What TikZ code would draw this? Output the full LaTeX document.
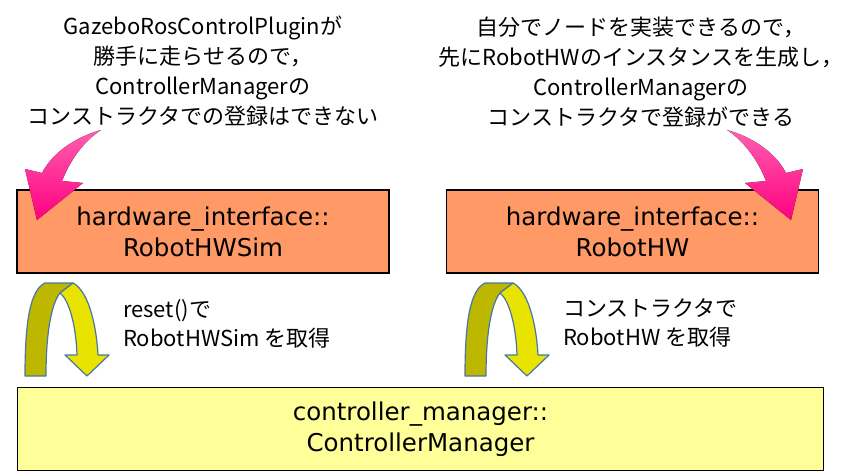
\documentclass[tikz,border=0pt]{standalone}
\usepackage{fontspec}
\setmainfont{Noto Sans CJK JP}
\newfontfamily\boxfont{DejaVu Sans}
\usetikzlibrary{positioning}
\definecolor{boxorange}{RGB}{255,153,102}
\definecolor{boxyellow}{RGB}{255,255,153}
\definecolor{ribbondark}{RGB}{189,183,0}
\definecolor{ribbonlight}{RGB}{232,228,0}
\definecolor{ribbonline}{RGB}{72,118,168}
\definecolor{pinkdeep}{RGB}{255,0,128}
\definecolor{pinklight}{RGB}{255,160,205}
\definecolor{pinkmid}{RGB}{255,95,175}

\begin{document}
\begin{tikzpicture}[x=1pt,y=-1pt]
       \tikzset{classbox/.style={rectangle, draw, line width=1.2pt, minimum width=372pt,
                minimum height=83pt, align=center, font=\boxfont\fontsize{24.5}{31}\selectfont}}

       \tikzset{note/.style={align=center, inner sep=0pt, font=\fontsize{22}{30}\selectfont}}

       \tikzset{caption/.style={align=left, inner sep=0pt, font=\fontsize{22}{29}\selectfont}}

       \tikzset{ribbon/.style={draw=ribbonline, line width=1.2pt, line join=round}}

       \tikzset{pinkarrow/.style={top color=pinkmid, middle color=pinklight, bottom color=pinkdeep}}

        \useasboundingbox (0,0) rectangle (864,475);

        \node[note] (simnote) at (203,71) {GazeboRosControlPluginが\\勝手に走らせるので，\\ControllerManagerの\\コンストラクタでの登録はできない};
        \node[note] (hwnote) at (641,72) {自分でノードを実装できるので，\\先にRobotHWのインスタンスを生成し，\\ControllerManagerの\\コンストラクタで登録ができる};

        \node[classbox, fill=boxorange] (hwsim) at (203,231.5) {hardware\_interface::\\RobotHWSim};
        \node[classbox, fill=boxorange] (hw) at (632.5,231.5) {hardware\_interface::\\RobotHW};
        \node[classbox, fill=boxyellow, minimum width=806pt] (manager) at (420.5,429) {controller\_manager::\\ControllerManager};

        \node[caption, anchor=west] (simlabel) at (123,324) {reset()で\\RobotHWSim を取得};
        \node[caption, anchor=west] (hwlabel) at (563,323) {コンストラクタで\\RobotHW を取得};

        % pink arrows, right one mirrored
        \foreach \s/\sh in {1/0,-1/828}{
          \begin{scope}[shift={(\sh,0)}, xscale=\s]
            \fill[pinkarrow] (101,130) .. controls (76,137) and (53,152) .. (42,173) -- (25,169) -- (37,220)
              -- (83,183) -- (62,181) .. controls (70,160) and (85,140) .. (101,130) -- cycle;
          \end{scope}
        }

        % u-turn arrows
        \foreach \dx in {0,440}{
          \begin{scope}[xshift=\dx]
            \draw[ribbon, fill=ribbondark] (25,376) .. controls (25,322) and (30,290) .. (45,283) -- (73,283)
              -- (60,293) .. controls (52,303) and (46,330) .. (46,376) -- cycle;
            \draw[ribbon, fill=ribbonlight] (73,283) .. controls (87,290) and (96,320) .. (98,355) -- (109,355)
              -- (87,376) -- (65,355) -- (77,355) .. controls (76,325) and (69,300) .. (60,293) -- cycle;
          \end{scope}
        }

   \end{tikzpicture}
\end{document}
